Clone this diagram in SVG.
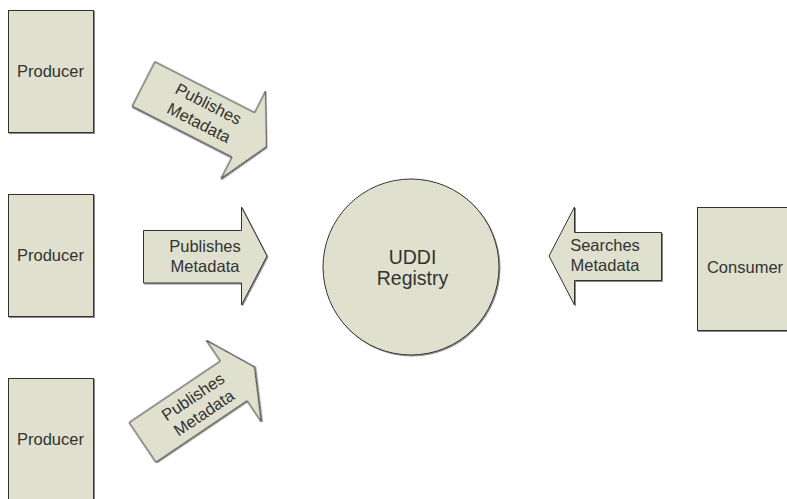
<svg xmlns="http://www.w3.org/2000/svg" width="787" height="499" viewBox="0 0 787 499">
  <defs>
    <filter id="shadow" x="-5%" y="-5%" width="115%" height="115%">
      <feOffset in="SourceAlpha" dx="1.2" dy="1.2" result="off"/>
      <feFlood flood-color="#8a8a8a"/>
      <feComposite in2="off" operator="in" result="sh"/>
      <feMerge><feMergeNode in="sh"/><feMergeNode in="SourceGraphic"/></feMerge>
    </filter>
  </defs>
  <style>
    .shape { fill: #dfe0cd; stroke: #333333; stroke-width: 1; filter: url(#shadow); }
    .label { font-family: "Liberation Sans", Arial, sans-serif; font-size: 16.5px; fill: #333333; text-anchor: middle; }
    .big { font-size: 19.5px; }
  </style>
  <rect width="787" height="499" fill="#ffffff"/>

  <!-- producers -->
  <g id="producer-1">
    <rect class="shape" x="8.5" y="10.5" width="85" height="122"/>
    <text class="label" x="50.5" y="77">Producer</text>
  </g>
  <g id="producer-2">
    <rect class="shape" x="8.5" y="194.5" width="85" height="122"/>
    <text class="label" x="50.5" y="261">Producer</text>
  </g>
  <g id="producer-3">
    <rect class="shape" x="8.5" y="378.5" width="85" height="122"/>
    <text class="label" x="50.5" y="445">Producer</text>
  </g>

  <!-- registry -->
  <g id="uddi-registry">
    <circle class="shape" cx="411" cy="267" r="88"/>
    <text class="label big" x="412.5" y="264">UDDI</text>
    <text class="label big" x="412.5" y="285">Registry</text>
  </g>

  <!-- consumer -->
  <g id="consumer">
    <rect class="shape" x="697.5" y="207.5" width="96" height="123"/>
    <text class="label" x="745" y="273">Consumer</text>
  </g>

  <!-- block arrows -->
  <g id="connectors">
    <g id="publish-1" transform="translate(143.5,84) rotate(27)">
      <path class="shape" d="M0,-25 L112,-25 L112,-49 L138,0 L112,49 L112,25 L0,25 Z"/>
      <text class="label" x="67" y="-6">Publishes</text>
      <text class="label" x="67" y="15">Metadata</text>
    </g>
    <g id="publish-2">
      <path class="shape" d="M143.5,230.5 L241.5,230.5 L241.5,207 L267,256 L241.5,305 L241.5,283 L143.5,283 Z"/>
      <text class="label" x="205" y="252">Publishes</text>
      <text class="label" x="205" y="271.5">Metadata</text>
    </g>
    <g id="publish-3" transform="translate(142.5,442.5) rotate(-34)">
      <path class="shape" d="M0,-24 L110,-24 L110,-49 L135,0 L110,49 L110,24 L0,24 Z"/>
      <text class="label" x="67.5" y="-4">Publishes</text>
      <text class="label" x="67.5" y="15.5">Metadata</text>
    </g>
    <g id="search">
      <path class="shape" d="M549,256 L574.5,207 L574.5,232.5 L661.5,232.5 L661.5,280.5 L574.5,280.5 L574.5,305 Z"/>
      <text class="label" x="605" y="251">Searches</text>
      <text class="label" x="605" y="271">Metadata</text>
    </g>
  </g>
</svg>
